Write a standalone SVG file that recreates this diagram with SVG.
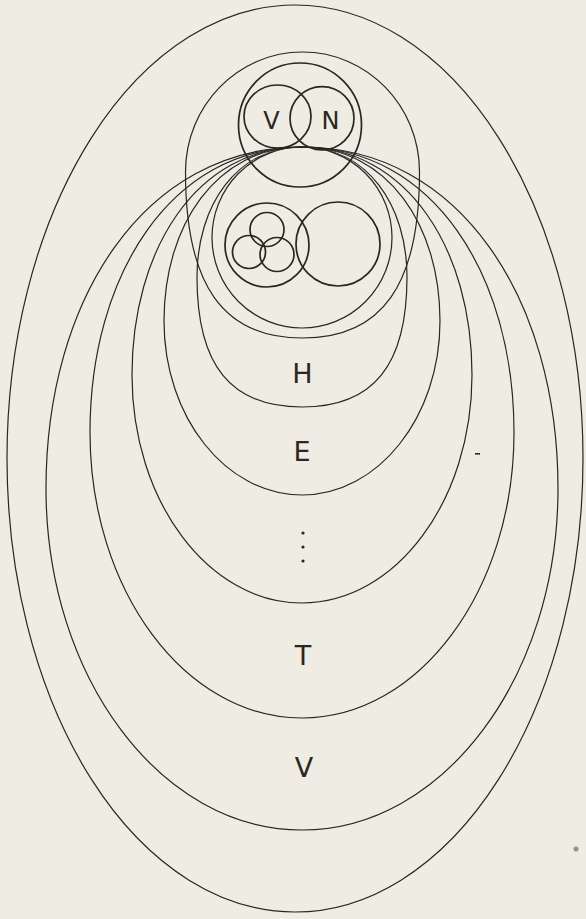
<svg xmlns="http://www.w3.org/2000/svg" width="586" height="919" viewBox="0 0 586 919">
<style>
.bg{fill:#eeece3}
.ln{fill:none;stroke:#2a2622;stroke-width:1.2}
.th{fill:none;stroke:#2a2622;stroke-width:1.7}
.lb{font-family:"DejaVu Sans","Liberation Sans",sans-serif;font-size:27px;fill:#2a2622;text-anchor:middle}
.sm{font-size:24px}
.dot{fill:#2a2622}
</style>
<rect class="bg" x="0" y="0" width="586" height="919"/>
<g id="set-outer"><ellipse class="ln" cx="295" cy="458.5" rx="288" ry="453.5"/></g>
<g id="set-V"><path class="ln" d="M302,147 C460.7,147 558,300.7 558,488.5 C558,677 443.3,830 302,830 C160.7,830 46,677 46,488.5 C46,300.7 143.3,147 302,147 Z"/><text class="lb" x="304" y="777">V</text></g>
<g id="set-T"><path class="ln" d="M302,147 C433.4,147 514,275.5 514,432.5 C514,590.1 419,718 302,718 C185,718 90,590.1 90,432.5 C90,275.5 170.6,147 302,147 Z"/><text class="lb" x="303" y="665">T</text></g>
<g id="set-dots"><path class="ln" d="M302,147 C407.4,147 472,249.6 472,375 C472,500.9 395.8,603 302,603 C208.2,603 132,500.9 132,375 C132,249.6 196.6,147 302,147 Z"/>
<circle class="dot" cx="303" cy="533" r="1.6"/><circle class="dot" cx="303" cy="547" r="1.6"/><circle class="dot" cx="303" cy="561" r="1.6"/></g>
<g id="set-E"><path class="ln" d="M302,147 C387.6,147 440,225.3 440,321 C440,417 378.2,495 302,495 C225.8,495 164,417 164,321 C164,225.3 216.4,147 302,147 Z"/><text class="lb" x="302" y="461">E</text></g>
<g id="set-H"><path class="ln" d="M302,147 C367.1,147 407,205.5 407,277 C407,365.4 373.4,407 302,407 C230.6,407 197,365.4 197,277 C197,205.5 236.9,147 302,147 Z"/><text class="lb" x="302.5" y="383">H</text></g>
<g id="set-big"><path class="ln" d="M302.5,52 C367.1,52 419.5,105.7 419.5,172 C419.5,284.9 382.1,338 302.5,338 C222.9,338 185.5,284.9 185.5,172 C185.5,105.7 237.9,52 302.5,52 Z"/></g>
<g id="set-A"><ellipse class="ln" cx="302" cy="237.5" rx="90" ry="90.5"/></g>
<g id="set-VN"><ellipse class="th" cx="300" cy="125" rx="61.5" ry="62"/></g>
<g id="circle-V"><ellipse class="th" cx="277.5" cy="116.5" rx="33.5" ry="31.5"/><text class="lb sm" x="271.5" y="129">V</text></g>
<g id="circle-N"><ellipse class="th" cx="322" cy="118.3" rx="32" ry="31.7"/><text class="lb sm" x="330.5" y="129">N</text></g>
<g id="circle-group"><circle class="th" cx="267" cy="245" r="42"/></g>
<g id="circle-right"><circle class="th" cx="338" cy="244" r="42"/></g>
<g id="circle-s1"><circle class="th" cx="267" cy="229.5" r="17"/></g>
<g id="circle-s2"><circle class="th" cx="249" cy="252" r="16.5"/></g>
<g id="circle-s3"><circle class="th" cx="277" cy="254.5" r="17"/></g>
<g id="connectors"></g>
<g id="marks"><rect class="dot" x="475" y="453" width="5" height="1.6"/><circle fill="#9a8f80" cx="576" cy="849" r="2.5"/></g>
</svg>
